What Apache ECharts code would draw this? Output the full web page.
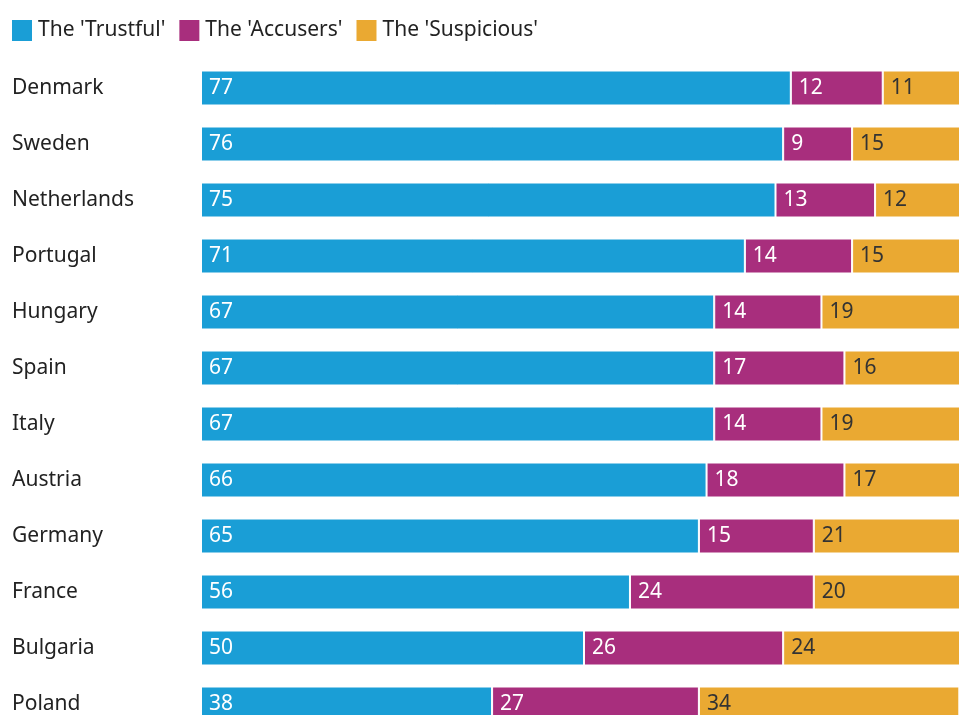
<!DOCTYPE html>
<html>
<head>
<meta charset="utf-8">
<script src="https://cdn.jsdelivr.net/npm/echarts@6/dist/echarts.min.js"></script>
<style>
  html, body { margin: 0; padding: 0; background: #fff; overflow: hidden; }
  /* the chart runs past the right and bottom edges of the window */
  #chart { width: 967px; height: 732px; }
</style>
</head>
<body>
<div id="chart"></div>
<script>
// Share of respondents per country, by attitude group (percent)
const countries = ['Denmark', 'Sweden', 'Netherlands', 'Portugal', 'Hungary', 'Spain',
  'Italy', 'Austria', 'Germany', 'France', 'Bulgaria', 'Poland'];
const trustful = [77, 76, 75, 71, 67, 67, 67, 66, 65, 56, 50, 38];
const accusers = [12, 9, 13, 14, 14, 17, 14, 18, 15, 24, 26, 27];
const suspicious = [11, 15, 12, 15, 19, 16, 19, 17, 21, 20, 24, 34];

const seriesNames = ["The 'Trustful'", "The 'Accusers'", "The 'Suspicious'"];
const colors = ['#1a9ed6', '#a82e7d', '#eaa932'];
const labelColors = ['#ffffff', '#ffffff', '#333333'];
const FONT = 'Noto Sans';

const chart = echarts.init(document.getElementById('chart'));

const makeSeries = (name, data, i) => ({
  name: name,
  type: 'bar',
  stack: 'total',
  data: data,
  barWidth: 35,
  itemStyle: { color: colors[i], borderColor: '#ffffff', borderWidth: 1 },
  label: {
    show: true,
    position: 'insideLeft',
    distance: 8,
    color: labelColors[i],
    fontFamily: FONT,
    fontSize: 21,
    padding: [3, 0, 0, 0]
  },
  emphasis: { disabled: true }
});

chart.setOption({
  animation: false,
  backgroundColor: '#ffffff',
  color: colors,
  legend: {
    left: 10,
    top: 18,
    padding: 0,
    itemWidth: 22,
    itemHeight: 23,
    itemGap: 12,
    icon: 'rect',
    textStyle: { fontFamily: FONT, fontSize: 21, color: '#222222', padding: [4, 0, 0, 0] },
    data: seriesNames
  },
  grid: { left: 201, top: 60, right: 0, bottom: 0, containLabel: false },
  xAxis: {
    type: 'value',
    min: 0,
    max: 100,
    show: false
  },
  yAxis: {
    type: 'category',
    inverse: true,
    data: countries,
    axisLine: { show: false },
    axisTick: { show: false },
    axisLabel: {
      align: 'left',
      margin: 189,
      fontFamily: FONT,
      fontSize: 21,
      color: '#222222',
      padding: [3, 0, 0, 0]
    }
  },
  series: [
    makeSeries(seriesNames[0], trustful, 0),
    makeSeries(seriesNames[1], accusers, 1),
    makeSeries(seriesNames[2], suspicious, 2)
  ]
});
</script>
</body>
</html>
